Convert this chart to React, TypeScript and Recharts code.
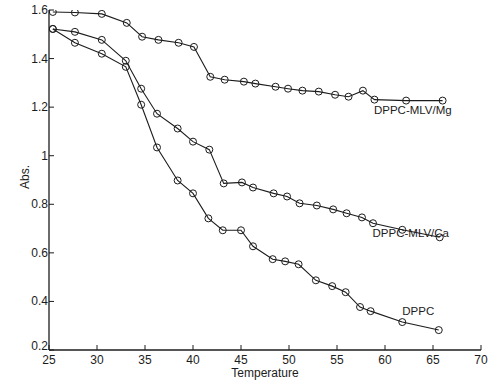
import React from 'react'
import { LineChart, Line, XAxis, YAxis, ReferenceDot } from 'recharts'

// temperatures (°C) and absorbance
const mgTemp = [25.4, 27.7, 30.5, 33.1, 34.7, 36.4, 38.5, 40.1, 41.8, 43.3, 45.3, 46.5, 48.6, 49.9, 51.4, 53.1, 54.8, 56.2, 57.7, 58.9, 62.2, 66.0]
const mgAbs = [1.592, 1.59, 1.584, 1.547, 1.49, 1.477, 1.465, 1.448, 1.325, 1.313, 1.305, 1.297, 1.284, 1.276, 1.268, 1.264, 1.251, 1.243, 1.268, 1.231, 1.227, 1.227]

const caTemp = [25.4, 27.7, 30.5, 33.0, 34.6, 36.25, 38.4, 40.0, 41.7, 43.2, 45.1, 46.25, 48.4, 49.8, 51.1, 52.9, 54.6, 56.0, 57.6, 58.75, 61.8, 65.7]
const caAbs = [1.522, 1.51, 1.477, 1.391, 1.276, 1.173, 1.112, 1.058, 1.025, 0.886, 0.89, 0.869, 0.845, 0.832, 0.804, 0.795, 0.779, 0.763, 0.746, 0.722, 0.695, 0.664]

const dppcTemp = [25.4, 27.7, 30.5, 33.0, 34.6, 36.25, 38.4, 40.0, 41.6, 43.1, 45.0, 46.25, 48.3, 49.6, 51.0, 52.8, 54.5, 55.9, 57.4, 58.5, 61.8, 65.6]
const dppcAbs = [1.522, 1.465, 1.42, 1.366, 1.21, 1.034, 0.898, 0.845, 0.742, 0.693, 0.693, 0.627, 0.574, 0.565, 0.553, 0.487, 0.463, 0.438, 0.377, 0.36, 0.315, 0.282]

const xTicks = [25, 30, 35, 40, 45, 50, 55, 60, 65, 70]
const yTicks = [0.2, 0.4, 0.6, 0.8, 1, 1.2, 1.4, 1.6]

const seriesLabels = [
  { name: 'DPPC-MLV/Mg', t: 58.85, v: 1.19 },
  { name: 'DPPC-MLV/Ca', t: 58.7, v: 0.68 },
  { name: 'DPPC', t: 61.8, v: 0.36 }
]

const toRows = (temps: number[], abs: number[]) => temps.map((t, i) => ({ t, v: abs[i] }))
const mgData = toRows(mgTemp, mgAbs)
const caData = toRows(caTemp, caAbs)
const dppcData = toRows(dppcTemp, dppcAbs)

const ink = '#1c1c1c'
const font = '"Liberation Sans", Arial, sans-serif'
const dot = { r: 3.5, stroke: ink, strokeWidth: 1, fill: 'none' }

const XTick = (props: any) => {
  const { x, y, payload } = props
  return (
    <g>
      <line x1={x} x2={x} y1={y} y2={y - 5} stroke={ink} />
      <text x={x} y={y + 14} textAnchor='middle' fontSize={12} fontFamily={font} fill={ink}>
        {payload.value}
      </text>
    </g>
  )
}

const YTick = (props: any) => {
  const { x, y, payload, index } = props
  // lowest label sits a little higher so it clears the "25" below
  const dy = index === 0 ? 0 : 4
  return (
    <g>
      <line x1={x} x2={x + 5} y1={y} y2={y} stroke={ink} />
      <text x={x - 1} y={y + dy} textAnchor='end' fontSize={12} fontFamily={font} fill={ink}>
        {String(payload.value)}
      </text>
    </g>
  )
}

const SeriesLabel = (name: string) => (props: any) => {
  const { viewBox } = props
  return (
    <text x={viewBox.x} y={viewBox.y + 4} fontSize={11.5} fontFamily={font} fill={ink}>
      {name}
    </text>
  )
}

export default function App() {
  return (
    <div style={{ position: 'absolute', left: 0, top: 0, width: 500, height: 389, background: '#fff' }}>
      <LineChart width={500} height={389} margin={{ top: 10, right: 19, left: 9, bottom: 0 }}>
        <XAxis
          type='number'
          dataKey='t'
          domain={[25, 70]}
          ticks={xTicks}
          height={39}
          tickSize={0}
          tickMargin={0}
          tickLine={false}
          tick={XTick}
          axisLine={{ stroke: ink, strokeWidth: 1.3 }}
          allowDataOverflow
          label={(p: any) => (
            <text x={p.viewBox.x + p.viewBox.width / 2} y={p.viewBox.y + 27} textAnchor='middle' fontSize={12} fontFamily={font} fill={ink}>
              Temperature
            </text>
          )}
        />
        <YAxis
          type='number'
          dataKey='v'
          domain={[0.2, 1.6]}
          ticks={yTicks}
          width={40}
          tickSize={0}
          tickMargin={0}
          tickLine={false}
          tick={YTick}
          axisLine={{ stroke: ink, strokeWidth: 1.3 }}
          allowDataOverflow
          label={() => (
            <text x={25} y={177} transform='rotate(-90 25 177)' textAnchor='middle' dominantBaseline='central' fontSize={12} fontFamily={font} fill={ink}>
              Abs.
            </text>
          )}
        />
        <Line data={mgData} dataKey='v' stroke={ink} strokeWidth={1.1} dot={dot} isAnimationActive={false} />
        <Line data={caData} dataKey='v' stroke={ink} strokeWidth={1.1} dot={dot} isAnimationActive={false} />
        <Line data={dppcData} dataKey='v' stroke={ink} strokeWidth={1.1} dot={dot} isAnimationActive={false} />
        {seriesLabels.map(s => (
          <ReferenceDot key={s.name} x={s.t} y={s.v} r={0} stroke='none' fill='none' label={SeriesLabel(s.name)} />
        ))}
      </LineChart>
    </div>
  )
}
